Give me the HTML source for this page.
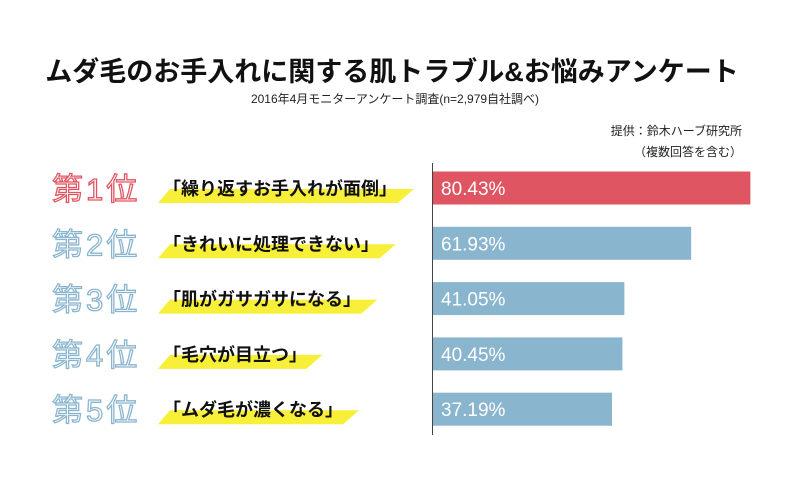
<!DOCTYPE html>
<html><head><meta charset="utf-8">
<style>
body{margin:0;background:#fff;}
#wrap{position:relative;width:800px;height:500px;overflow:hidden;font-family:"Liberation Sans","Noto Sans CJK JP",sans-serif;}
.t{position:absolute;white-space:nowrap;}
</style></head>
<body>
<div id="wrap">
<div class="t" style="left:-8px;width:800px;text-align:center;top:50px;font-size:27px;font-weight:bold;color:#111;">ムダ毛のお手入れに関する肌トラブル&amp;お悩みアンケート</div>
<div class="t" style="left:-5px;width:800px;text-align:center;top:90px;font-size:12px;color:#222;">2016年4月モニターアンケート調査(n=2,979自社調べ)</div>
<div class="t" style="right:58px;top:122px;font-size:12px;color:#222;">提供：鈴木ハーブ研究所</div>
<div class="t" style="right:58px;top:143px;font-size:12px;color:#222;">（複数回答を含む）</div>
<svg id="svg" width="800" height="500" style="position:absolute;left:0;top:0;"></svg>
</div>
<script>
const ranks = ["第1位","第2位","第3位","第4位","第5位"];
const categories = ["「繰り返すお手入れが面倒」","「きれいに処理できない」","「肌がガサガサになる」","「毛穴が目立つ」","「ムダ毛が濃くなる」"];
const values = [80.43,61.93,41.05,40.45,37.19];
const labels = ["80.43%","61.93%","41.05%","40.45%","37.19%"];

const NS="http://www.w3.org/2000/svg";
const svg=document.getElementById('svg');
const x0=433;
function xw(v){return 60+3.2*v;}
function yc(i){return 188+i*55.3;}
function mk(tag,attrs){const e=document.createElementNS(NS,tag);for(const k in attrs)e.setAttribute(k,attrs[k]);svg.appendChild(e);return e;}
const ax=mk('line',{x1:432.5,x2:432.5,y1:163,y2:435,stroke:'#444','stroke-width':1});


values.forEach((v,i)=>{
  const c=yc(i);
  const col=i===0?'#e05562':'#8ab5cf';
  const r=mk('rect',{x:x0,y:c-16.5,width:xw(v),height:33,fill:col});
  
  
  const t=mk('text',{x:x0+8,y:c+7,'font-size':19,fill:'#fff','font-family':'"Liberation Sans",sans-serif'});
  t.textContent=labels[i];
  
  
  const rk=mk('text',{x:52,y:c+12,'font-size':31,fill:'#fff',stroke:col,'stroke-width':1.3,'font-family':'"Liberation Sans","Noto Sans CJK JP",sans-serif','letter-spacing':3});
  rk.textContent=ranks[i];
  
  
  const tw=categories[i].length*18.3;
  const hl=mk('polygon',{points:`${170},${c+1} ${166+tw+10},${c+1} ${160+tw},${c+15} ${158},${c+15}`,fill:'#f7ef38'});
  
  
  const ct=mk('text',{x:163,y:c+7,'font-size':18,fill:'#111','font-weight':'bold','font-family':'"Liberation Sans","Noto Sans CJK JP",sans-serif'});
  ct.textContent=categories[i];
  
  
});
</script>
</body></html>
